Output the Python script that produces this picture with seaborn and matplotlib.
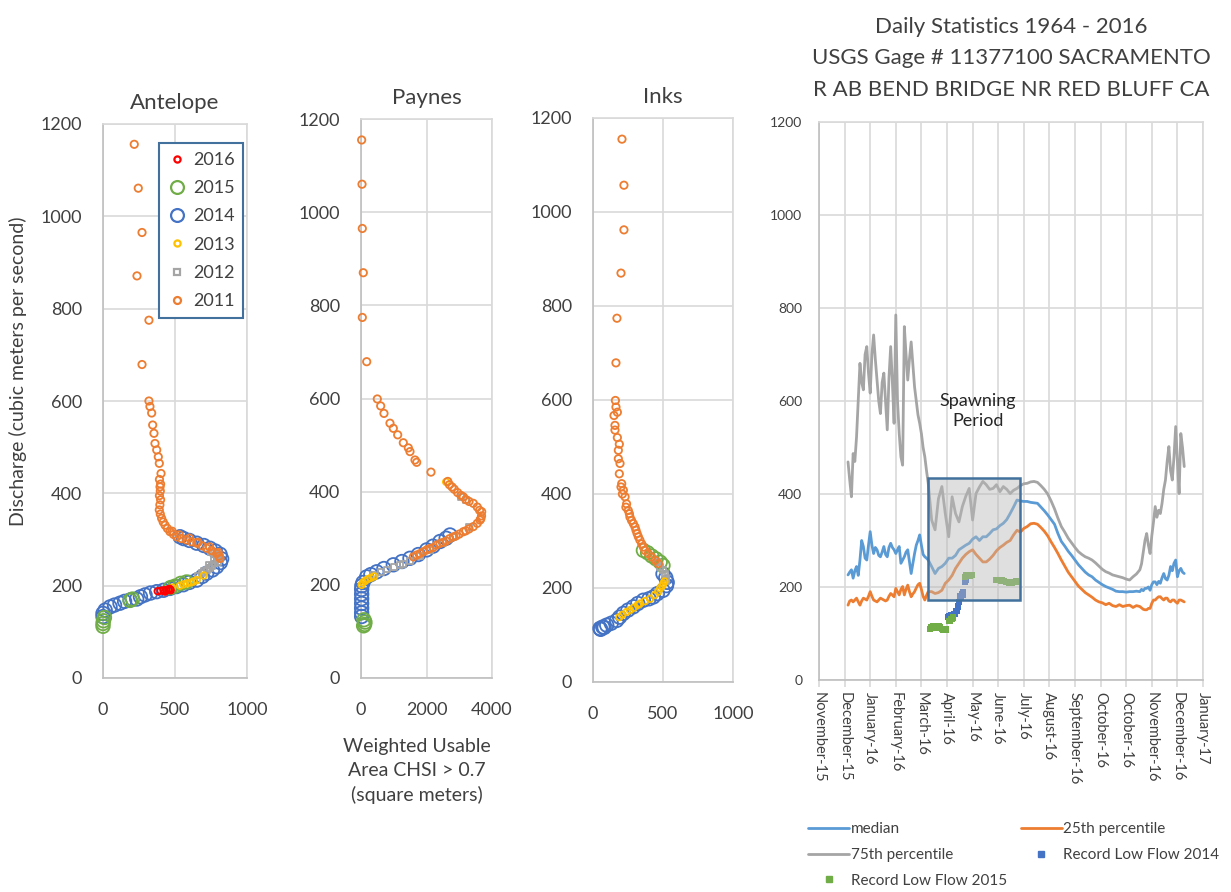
import numpy as np
import pandas as pd
import matplotlib
matplotlib.use("Agg")
import matplotlib.pyplot as plt
from matplotlib.lines import Line2D
from matplotlib.patches import Rectangle
import seaborn as sns

# === Scatter panels: discharge vs weighted usable area ===
ant_2011_x = [217, 245, 271, 236, 319, 271, 319, 326, 338, 345, 354, 361, 373, 384, 391, 403, 392, 396, 400, 398, 392, 400, 395, 391, 398,
              407, 418, 431, 447, 465, 490, 512, 545, 581, 615, 651, 690, 720, 755, 789, 805, 813, 480, 530, 600, 660, 740, 800]
ant_2011_y = [1156, 1061, 965, 871, 775, 679, 600, 588, 574, 548, 530, 508, 494, 479, 465, 443, 430, 414, 420, 405, 395, 386, 375, 364, 355,
              346, 338, 331, 324, 317, 311, 306, 302, 299, 295, 292, 286, 281, 276, 270, 264, 259, 318, 310, 303, 294, 284, 272]
ant_2014_x = [0, 0, 15, 49, 80, 118, 150, 188, 234, 260, 292, 330, 373, 420, 465, 510, 558, 600, 651, 690, 720, 760, 789, 815, 824, 813,
              780, 743, 700, 651, 600, 560, 535]
ant_2014_y = [133, 140, 147, 154, 158, 162, 166, 169, 171, 176, 180, 184, 187, 190, 194, 198, 202, 207, 212, 220, 227, 234, 241, 250, 258, 268,
              275, 281, 287, 292, 298, 302, 306]
ant_2015_x = [0, 0, 3, 10, 188, 205, 470, 500, 540, 580]
ant_2015_y = [112, 118, 124, 131, 168, 171, 196, 199, 205, 208]
ant_2013_x = [480, 535, 560, 585, 610, 630, 651, 700]
ant_2013_y = [196, 200, 203, 205, 207, 209, 212, 222]
ant_2012_x = [660, 690, 700, 720, 735, 740, 760, 770, 780, 800, 800, 815, 810, 790, 770, 750]
ant_2012_y = [222, 228, 232, 234, 245, 238, 243, 255, 248, 252, 258, 258, 262, 266, 270, 272]
ant_2016_x = [380, 400, 420, 430, 440, 455, 465, 470]
ant_2016_y = [188, 189, 190, 187, 191, 192, 193, 190]

pay_2011_x = [20, 31, 40, 70, 40, 174, 498, 601, 702, 885, 987, 1120, 1292, 1445, 1496, 1649, 1700, 2137, 2650, 2700,
              2780, 2850, 2950, 3050, 3124, 3200, 3300, 3429, 3550, 3620, 3685, 3680, 3660, 3634, 3550, 3429, 3300, 3200, 3124, 3000,
              2900, 2819, 2700, 2600, 2500, 2412, 2300, 2200, 2100, 2006, 1900, 1800, 1700, 1598]
pay_2011_y = [1155, 1060, 965, 870, 774, 679, 599, 584, 568, 547, 536, 522, 505, 494, 486, 468, 463, 442, 422, 415,
              410, 405, 398, 392, 389, 383, 379, 375, 367, 360, 357, 348, 342, 339, 332, 325, 320, 316, 314, 309,
              305, 303, 299, 294, 291, 289, 285, 280, 278, 275, 271, 267, 264, 260]
pay_2014_x = [20, 20, 20, 20, 20, 20, 20, 25, 60, 174, 300, 479, 700, 987, 1250, 1496, 1750, 2006, 2200, 2412, 2600, 2718]
pay_2014_y = [132, 140, 150, 160, 170, 180, 190, 198, 205, 217, 222, 228, 235, 243, 250, 257, 265, 275, 283, 293, 300, 307]
pay_2015_x = [80, 110, 120, 90]
pay_2015_y = [112, 115, 120, 125]
pay_2013_x = [20, 60, 120, 200, 300, 400, 2600]
pay_2013_y = [200, 205, 208, 212, 215, 218, 421]
pay_2012_x = [380, 600, 800, 1000, 1200, 1292, 1500, 1800, 2100, 2500, 2800, 3050, 3200, 3300]
pay_2012_y = [222, 228, 233, 238, 242, 245, 252, 262, 275, 290, 302, 388, 383, 325]

ink_2011_x = [207, 221, 221, 200, 171, 164, 160, 164, 174, 150, 157, 157, 174, 188, 181, 181, 193, 188, 205, 200,
              217, 210, 229, 240, 235, 252, 260, 264, 275, 288, 300, 307, 315, 324, 335, 348, 360, 371, 395, 419, 445, 467]
ink_2011_y = [1155, 1057, 962, 870, 774, 679, 599, 585, 574, 567, 546, 536, 520, 506, 493, 475, 465, 443, 422, 415,
              408, 400, 394, 379, 372, 365, 358, 351, 344, 337, 330, 323, 316, 309, 302, 294, 287, 280, 273, 266, 259, 252]
ink_2015_x = [360, 390, 420, 450, 480, 500]
ink_2015_y = [280, 275, 268, 262, 255, 248]
ink_2012_x = [455, 480, 500, 515, 525, 520]
ink_2012_y = [255, 245, 238, 230, 222, 215]
ink_2014_x = [500, 520, 530, 525, 500, 460, 431, 400, 360, 320, 288, 250, 217, 190, 169, 130, 98, 70, 50, 55, 80]
ink_2014_y = [230, 222, 212, 205, 195, 188, 181, 177, 174, 167, 160, 153, 146, 138, 131, 125, 121, 117, 114, 112, 116]
ink_2013_x = [188, 210, 240, 264, 290, 320, 336, 370, 407, 440, 465, 479, 495, 502, 510]
ink_2013_y = [138, 143, 149, 153, 158, 164, 167, 172, 177, 185, 192, 199, 205, 209, 214]

# === Daily statistics (day 0 = November-15 tick, one tick per 30 days) ===
days = [34, 36, 38, 40, 42, 44, 46, 48, 50, 52, 54, 56, 58, 60, 62, 64, 66, 68, 70, 72, 74, 76, 78, 80,
        82, 84, 86, 88, 90, 92, 94, 96, 98, 100, 102, 104, 106, 108, 110, 112, 114, 116, 118, 120, 122, 124, 126, 128,
        132, 136, 140, 144, 148, 152, 156, 160, 164, 168, 172, 176, 180, 184, 188, 192, 196, 200, 204, 208,
        212, 216, 220, 224, 228, 232, 236, 240, 244, 248, 252, 256, 260, 264, 268, 272, 276, 280, 284, 288,
        292, 296, 300, 304, 308, 312, 316, 320, 324, 328, 332, 336, 340, 344, 348, 352, 356, 360, 364, 368, 372,
        376, 378, 380, 382, 384, 386, 388, 390, 392, 394, 396, 398, 400, 402, 404, 406, 408, 410, 412, 414,
        416, 418, 420, 422, 424, 426, 428]
p75 = [469, 430, 394, 487, 470, 523, 600, 681, 640, 624, 700, 717, 660, 617, 700, 742, 690, 645, 600, 573, 640, 660, 600, 538,
       650, 717, 640, 552, 785, 600, 530, 480, 462, 760, 700, 645, 690, 727, 680, 630, 600, 570, 552, 530, 500, 480, 450, 423,
       344, 323, 390, 416, 358, 308, 394, 358, 340, 373, 395, 412, 344, 401, 415, 427, 420, 410, 412, 420,
       405, 416, 410, 401, 408, 412, 418, 422, 423, 426, 427, 425, 418, 410, 400, 385, 368, 348, 330, 318,
       305, 295, 285, 276, 270, 265, 262, 258, 252, 245, 238, 233, 230, 226, 224, 222, 220, 217, 215, 222, 228,
       237, 250, 275, 300, 315, 290, 272, 310, 340, 373, 350, 365, 358, 380, 410, 430, 470, 502, 450, 430,
       480, 545, 470, 401, 530, 500, 459]
p50 = [226, 232, 237, 219, 235, 244, 225, 258, 300, 287, 262, 258, 290, 319, 290, 272, 285, 280, 268, 265, 275, 287, 270, 265,
       285, 294, 285, 280, 272, 280, 287, 251, 258, 265, 275, 280, 255, 229, 250, 272, 290, 300, 312, 290, 270, 265, 262, 258,
       244, 229, 240, 244, 251, 262, 262, 268, 280, 285, 290, 294, 303, 308, 300, 308, 308, 315, 323, 325,
       332, 337, 345, 358, 372, 387, 385, 384, 384, 382, 381, 380, 372, 364, 355, 345, 335, 315, 298, 288,
       277, 268, 258, 248, 240, 232, 226, 222, 215, 210, 205, 201, 198, 195, 191, 190, 190, 189, 190, 190, 191,
       190, 195, 192, 197, 197, 200, 193, 205, 211, 211, 205, 212, 208, 220, 229, 218, 215, 225, 244, 235,
       251, 258, 222, 235, 240, 232, 229]
p25 = [161, 170, 172, 168, 172, 176, 168, 161, 170, 176, 174, 172, 180, 190, 180, 172, 170, 168, 172, 176, 174, 172, 170, 172,
       180, 186, 183, 179, 197, 190, 183, 195, 201, 183, 195, 204, 190, 179, 185, 190, 198, 205, 208, 195, 180, 172, 182, 190,
       190, 186, 188, 193, 208, 215, 225, 240, 251, 262, 270, 276, 280, 270, 262, 254, 254, 260, 268, 278,
       285, 290, 296, 300, 312, 322, 318, 326, 330, 336, 337, 335, 328, 320, 310, 297, 285, 272, 258, 245,
       232, 222, 212, 202, 195, 188, 183, 178, 172, 168, 166, 162, 165, 160, 158, 162, 158, 160, 161, 156, 160,
       158, 155, 152, 151, 151, 154, 154, 165, 172, 172, 176, 179, 179, 175, 172, 176, 176, 170, 168, 172,
       172, 168, 165, 172, 172, 170, 168]
low2014_day = [151, 153, 155, 157, 159, 161, 163, 164, 165, 166, 168, 169, 171, 172]
low2014_q = [136, 138, 140, 137, 142, 148, 158, 168, 176, 180, 184, 188, 212, 216]
low2015_day = [130, 132, 134, 136, 138, 140, 142, 144, 146, 148, 153, 155, 157, 171, 173, 175, 177, 179,
               208, 211, 214, 217, 220, 223, 226, 229, 231]
low2015_q = [110, 114, 116, 112, 115, 116, 113, 110, 108, 109, 127, 131, 134, 222, 225, 226, 224, 226,
             215, 215, 214, 213, 211, 209, 210, 211, 212]
month_labels = ["November-15", "December-15", "January-16", "February-16", "March-16", "April-16", "May-16",
                "June-16", "July-16", "August-16", "September-16", "October-16", "October-16", "November-16",
                "December-16", "January-17"]

sns.set_theme(style="white")
plt.rcParams['font.family'] = ['Lato', 'DejaVu Sans']

TXT = '#404040'
year_style = {
    '2016': ('#FF0000', 'o', 22),
    '2015': ('#70AD47', 'o', 95),
    '2014': ('#4472C4', 'o', 95),
    '2013': ('#FFC000', 'o', 22),
    '2012': ('#A5A5A5', 's', 18),
    '2011': ('#ED7D31', 'o', 28),
}
draw_order = ['2014', '2015', '2012', '2013', '2011', '2016']

W, H = 1231, 892
fig = plt.figure(figsize=(W / 100, H / 100), dpi=100)


def box(l, t, r, b):
    return [l / W, 1 - b / H, (r - l) / W, (b - t) / H]


ax_ant = fig.add_axes(box(103, 124, 247, 678))
ax_pay = fig.add_axes(box(361, 119, 492, 678))
ax_ink = fig.add_axes(box(593, 118, 733, 682))
ax_usgs = fig.add_axes(box(819, 122, 1203, 680))

panels = [
    (ax_ant, "Antelope", 1000, 500, {'2011': (ant_2011_x, ant_2011_y), '2014': (ant_2014_x, ant_2014_y),
                                      '2015': (ant_2015_x, ant_2015_y), '2013': (ant_2013_x, ant_2013_y),
                                      '2012': (ant_2012_x, ant_2012_y), '2016': (ant_2016_x, ant_2016_y)}),
    (ax_pay, "Paynes", 4000, 2000, {'2011': (pay_2011_x, pay_2011_y), '2014': (pay_2014_x, pay_2014_y),
                                     '2015': (pay_2015_x, pay_2015_y), '2013': (pay_2013_x, pay_2013_y),
                                     '2012': (pay_2012_x, pay_2012_y)}),
    (ax_ink, "Inks", 1000, 500, {'2011': (ink_2011_x, ink_2011_y), '2014': (ink_2014_x, ink_2014_y),
                                  '2015': (ink_2015_x, ink_2015_y), '2013': (ink_2013_x, ink_2013_y),
                                  '2012': (ink_2012_x, ink_2012_y)}),
]

for ax, title, xmax, xstep, series in panels:
    for yr in draw_order:
        if yr not in series:
            continue
        col, mk, sz = year_style[yr]
        xs, ys = series[yr]
        sns.scatterplot(x=xs, y=ys, ax=ax, marker=mk, s=sz, facecolor='none', edgecolor=col,
                        linewidth=1.3, clip_on=False, zorder=3)
    ax.set_xlim(0, xmax)
    ax.set_ylim(0, 1200)
    ax.set_xticks(np.arange(0, xmax + 1, xstep))
    ax.set_yticks(np.arange(0, 1201, 200))
    ax.grid(True, color='#D9D9D9', lw=1.2)
    for s in ax.spines.values():
        s.set_color('#D9D9D9')
        s.set_linewidth(1.2)
    ax.spines['left'].set_color('#BFBFBF')
    ax.spines['bottom'].set_color('#BFBFBF')
    ax.tick_params(axis='y', length=0, labelsize=13, colors=TXT, pad=15)
    ax.tick_params(axis='x', length=0, labelsize=13, colors=TXT, pad=17)
    ax.set_xlabel('')
    ax.set_ylabel('')
    ax.set_title(title, fontsize=16, color=TXT, pad=11)

# Year legend in Antelope
leg_handles = []
for yr in ['2016', '2015', '2014', '2013', '2012', '2011']:
    col, mk, sz = year_style[yr]
    leg_handles.append(Line2D([], [], ls='none', marker=mk, markersize=np.sqrt(sz) * 0.95,
                              markerfacecolor='none', markeredgecolor=col, markeredgewidth=1.6))
leg = ax_ant.legend(leg_handles, ['2016', '2015', '2014', '2013', '2012', '2011'], loc='upper right',
                    bbox_to_anchor=(0.975, 0.966), borderaxespad=0, fontsize=13, labelspacing=0.68,
                    handlelength=1.0, handletextpad=0.35, borderpad=0.5, fancybox=False, framealpha=1)
leg.get_frame().set_edgecolor('#41719C')
leg.get_frame().set_linewidth(1.5)
for t in leg.get_texts():
    t.set_color(TXT)

fig.text(18 / W, 1 - 371 / H, "Discharge (cubic meters per second)", rotation=90, ha='center', va='center',
         fontsize=14, color=TXT)
fig.text(417 / W, 1 - 771 / H, "Weighted Usable\nArea CHSI > 0.7\n(square meters)", ha='center', va='center',
         fontsize=14, color=TXT, linespacing=1.45)

# === Daily statistics panel ===
ax = ax_usgs
sns.lineplot(x=days, y=p75, ax=ax, color='#A5A5A5', lw=2, zorder=2)
sns.lineplot(x=days, y=p50, ax=ax, color='#5B9BD5', lw=2, zorder=2)
sns.lineplot(x=days, y=p25, ax=ax, color='#ED7D31', lw=2, zorder=2)
sns.scatterplot(x=low2014_day, y=low2014_q, ax=ax, marker='s', s=22, color='#4472C4', edgecolor='none', zorder=3)
sns.scatterplot(x=low2015_day, y=low2015_q, ax=ax, marker='s', s=22, color='#70AD47', edgecolor='none', zorder=3)
ax.add_patch(Rectangle((128, 172), 236 - 128, 435 - 172, facecolor=(0.72, 0.72, 0.72, 0.45),
                       edgecolor='#41719C', lw=1.8, zorder=4))
ax.text(186, 578, "Spawning\nPeriod", ha='center', va='center', fontsize=13, color='#262626', linespacing=1.3)

ax.set_xlim(0, 450)
ax.set_ylim(0, 1200)
ax.set_xticks(np.arange(0, 451, 30))
ax.set_xticklabels(month_labels, rotation=270, ha='center', va='top')
ax.set_yticks(np.arange(0, 1201, 200))
ax.grid(True, color='#D9D9D9', lw=1.2)
for s in ax.spines.values():
    s.set_color('#D9D9D9')
    s.set_linewidth(1.2)
ax.spines['left'].set_color('#BFBFBF')
ax.spines['bottom'].set_color('#BFBFBF')
ax.tick_params(axis='y', length=0, labelsize=10, colors=TXT, pad=12)
ax.tick_params(axis='x', length=5, width=1.2, color='#D9D9D9', labelsize=10.5, labelcolor=TXT, pad=4, bottom=True)
ax.set_xlabel('')
ax.set_ylabel('')
ax.set_title("Daily Statistics 1964 - 2016\nUSGS Gage # 11377100 SACRAMENTO\nR AB BEND BRIDGE NR RED BLUFF CA",
             fontsize=16, color=TXT, pad=19, linespacing=1.72)

stat_handles = [
    Line2D([], [], color='#5B9BD5', lw=2),
    Line2D([], [], color='#A5A5A5', lw=2),
    Line2D([], [], ls='none', marker='s', markersize=5, color='#70AD47'),
    Line2D([], [], color='#ED7D31', lw=2),
    Line2D([], [], ls='none', marker='s', markersize=5, color='#4472C4'),
]
stat_labels = ["median", "75th percentile", "Record Low Flow 2015", "25th percentile", "Record Low Flow 2014"]
leg2 = fig.legend(stat_handles, stat_labels, loc='upper left', bbox_to_anchor=(808 / W, 1 - 822 / H), ncol=2,
                  frameon=False, fontsize=11, handlelength=2.7, columnspacing=0.9, labelspacing=0.78,
                  handletextpad=0.1, borderaxespad=0, borderpad=0)
for t in leg2.get_texts():
    t.set_color(TXT)

fig.savefig("out.png", dpi=100)
